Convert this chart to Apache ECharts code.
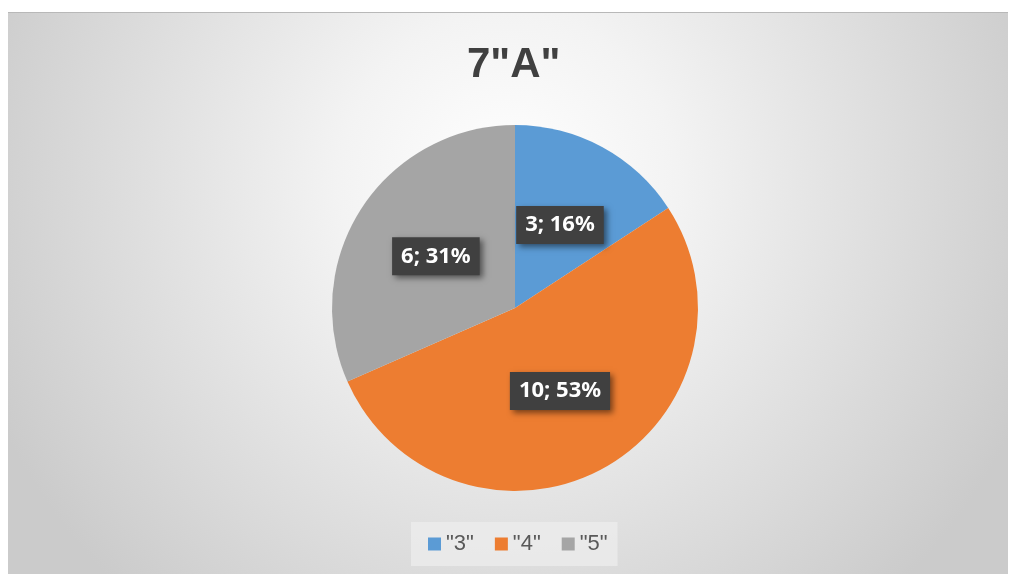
<!DOCTYPE html>
<html>
<head>
<meta charset="utf-8">
<script src="https://cdn.jsdelivr.net/npm/echarts@6/dist/echarts.min.js"></script>
<style>
  html, body { margin: 0; padding: 0; background: #fff; }
  #chart {
    position: absolute; left: 8px; top: 12px;
    width: 1000px; height: 562px;
    border-top: 1px solid #b8b8b8;
  }
</style>
</head>
<body>
<div id="chart"></div>
<script>
// data
var categories = ['"3"', '"4"', '"5"'];
var values = [3, 10, 6];
var percents = [16, 53, 31];
var colors = ['#5b9bd5', '#ed7d31', '#a5a5a5'];

var chart = echarts.init(document.getElementById('chart'));

var pieData = categories.map(function (c, i) {
  return { name: c, value: values[i], itemStyle: { color: colors[i] } };
});

chart.setOption({
  backgroundColor: {
    type: 'radial', x: 0.5, y: 0.3, r: 1.0,
    colorStops: [
      { offset: 0, color: '#ffffff' },
      { offset: 0.3, color: '#f3f3f3' },
      { offset: 1, color: '#cbcbcb' }
    ]
  },
  title: {
    text: '7"A"',
    left: 454,
    top: 26,
    textStyle: {
      fontFamily: 'Liberation Sans',
      fontWeight: 'bold',
      fontSize: 42,
      color: '#404040'
    }
  },
  legend: {
    bottom: 9,
    left: 403,
    itemWidth: 13,
    itemHeight: 13,
    itemGap: 21,
    icon: 'rect',
    padding: [11, 10, 11, 17],
    backgroundColor: 'rgba(238,238,238,0.7)',
    textStyle: { fontFamily: 'Liberation Sans', fontSize: 22, color: '#595959' },
    data: categories
  },
  series: [{
    type: 'pie',
    center: [507, 295],
    radius: 183,
    startAngle: 90,
    clockwise: true,
    silent: true,
    label: {
      show: true,
      position: 'inside',
      formatter: function (p) {
        return p.value + '; ' + percents[p.dataIndex] + '%';
      },
      fontFamily: 'Noto Sans',
      fontWeight: 'bold',
      fontSize: 22,
      color: '#ffffff',
      backgroundColor: '#404040',
      padding: [9, 9, 7, 9],
      shadowColor: 'rgba(0,0,0,0.5)',
      shadowBlur: 6,
      shadowOffsetX: 3,
      shadowOffsetY: 3
    },
    labelLine: { show: false },
    data: pieData
  }]
});
</script>
</body>
</html>
